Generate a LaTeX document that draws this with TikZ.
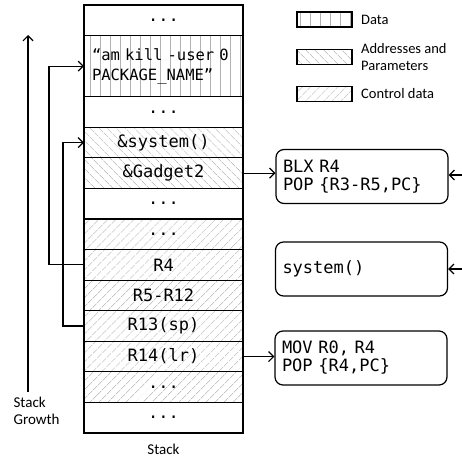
\documentclass[tikz,border=0pt]{standalone}
\usepackage{fontspec}
\usepackage{tikz}
\usetikzlibrary{positioning, patterns.meta, arrows.meta}
\newfontfamily\codefont[WordSpace={1,0,0}]{DejaVu Sans Mono}
\newfontfamily\labelfont{Carlito}

\begin{document}
\begin{tikzpicture}[x=1pt, y=-1pt, line width=1.2pt, >={Straight Barb[length=5pt,width=10pt]}]
    \tikzstyle{cell}=[draw, rectangle, minimum width=159pt, minimum height=30.57pt, inner sep=0pt, outer sep=0pt, font=\codefont\fontsize{17}{18}\selectfont]
    \tikzstyle{datafill}=[pattern={Lines[angle=90,distance=10pt,line width=0.6pt]}, pattern color=black!30]
    \tikzstyle{addrfill}=[pattern={Lines[angle=-45,distance=6.5pt,line width=0.5pt]}, pattern color=black!35]
    \tikzstyle{ctrlfill}=[pattern={Lines[angle=45,distance=6.5pt,line width=0.5pt]}, pattern color=black!35]
    \tikzstyle{codebox}=[draw, rectangle, rounded corners=8pt, minimum width=172pt, minimum height=54pt, text width=158pt, inner sep=7pt, align=left, font=\codefont\fontsize{17}{18}\selectfont]
    \tikzstyle{legendbox}=[draw, rectangle, minimum width=55pt, minimum height=15pt, inner sep=0pt]
    \tikzstyle{legendtext}=[inner sep=0pt, align=left, font=\labelfont\fontsize{14.5}{17}\selectfont]
    \useasboundingbox (0,0) rectangle (462,460);

    % stack
    \node [cell, anchor=north] (top) at (163.5,5) {...};
    \node [cell, datafill, minimum height=61.14pt, below=0pt of top, text width=143pt, align=left,
           font=\codefont\fontsize{15.5}{20}\selectfont] (data) {“am kill -user 0\\PACKAGE\_NAME”};
    \node [cell, below=0pt of data] (gap1) {...};
    \node [cell, addrfill, below=0pt of gap1] (sys) {\&system()};
    \node [cell, addrfill, below=0pt of sys] (gad) {\&Gadget2};
    \node [cell, below=0pt of gad] (gap2) {...};
    \node [cell, ctrlfill, below=0pt of gap2] (gap3) {...};
    \node [cell, ctrlfill, below=0pt of gap3] (r4) {R4};
    \node [cell, ctrlfill, below=0pt of r4] (r5) {R5-R12};
    \node [cell, ctrlfill, below=0pt of r5] (sp) {R13(sp)};
    \node [cell, ctrlfill, below=0pt of sp] (lr) {R14(lr)};
    \node [cell, ctrlfill, below=0pt of lr] (gap4) {...};
    \node [cell, below=0pt of gap4] (bottom) {...};
    \node [legendtext, font=\labelfont\fontsize{15}{17}\selectfont] (stack) at (163.5,449) {Stack};

    % growth
    \node [legendtext, font=\labelfont\fontsize{15}{17}\selectfont, anchor=west] (growth) at (13,411) {Stack\\Growth};
    \coordinate (g0) at (28,392);
    \coordinate (g1) at (28,35);
    \draw [->] (g0) -- (g1);

    % gadgets
    \node [codebox] (blx) at (362,176.5) {BLX R4\\POP \{R3-R5,PC\}};
    \node [codebox] (call) at (361.5,269) {system()};
    \node [codebox] (mov) at (361,358) {MOV R0, R4\\POP \{R4,PC\}};
    \coordinate (in1) at (462,175);
    \coordinate (in2) at (462,269);

    \draw [->] (r4.west) -- ++(-35,0) |- (data.west);
    \draw [->] (sp.west) -- ++(-21,0) |- (sys.west);
    \draw [->] (gad.east) -- (gad.east -| blx.west);
    \draw [->] (lr.east) -- (lr.east -| mov.west);
    \draw [->] (in1) -- (in1 -| blx.east);
    \draw [->] (in2) -- (in2 -| call.east);

    % legend
    \node [legendbox, datafill] (kdata) at (324.5,19.5) {};
    \node [legendbox, addrfill] (kaddr) at (324.5,57) {};
    \node [legendbox, ctrlfill] (kctrl) at (324.5,94) {};
    \node [legendtext, right=8pt of kdata] (tdata) {Data};
    \node [legendtext, right=8pt of kaddr] (taddr) {Addresses and\\Parameters};
    \node [legendtext, right=8pt of kctrl] (tctrl) {Control data};
\end{tikzpicture}
\end{document}
